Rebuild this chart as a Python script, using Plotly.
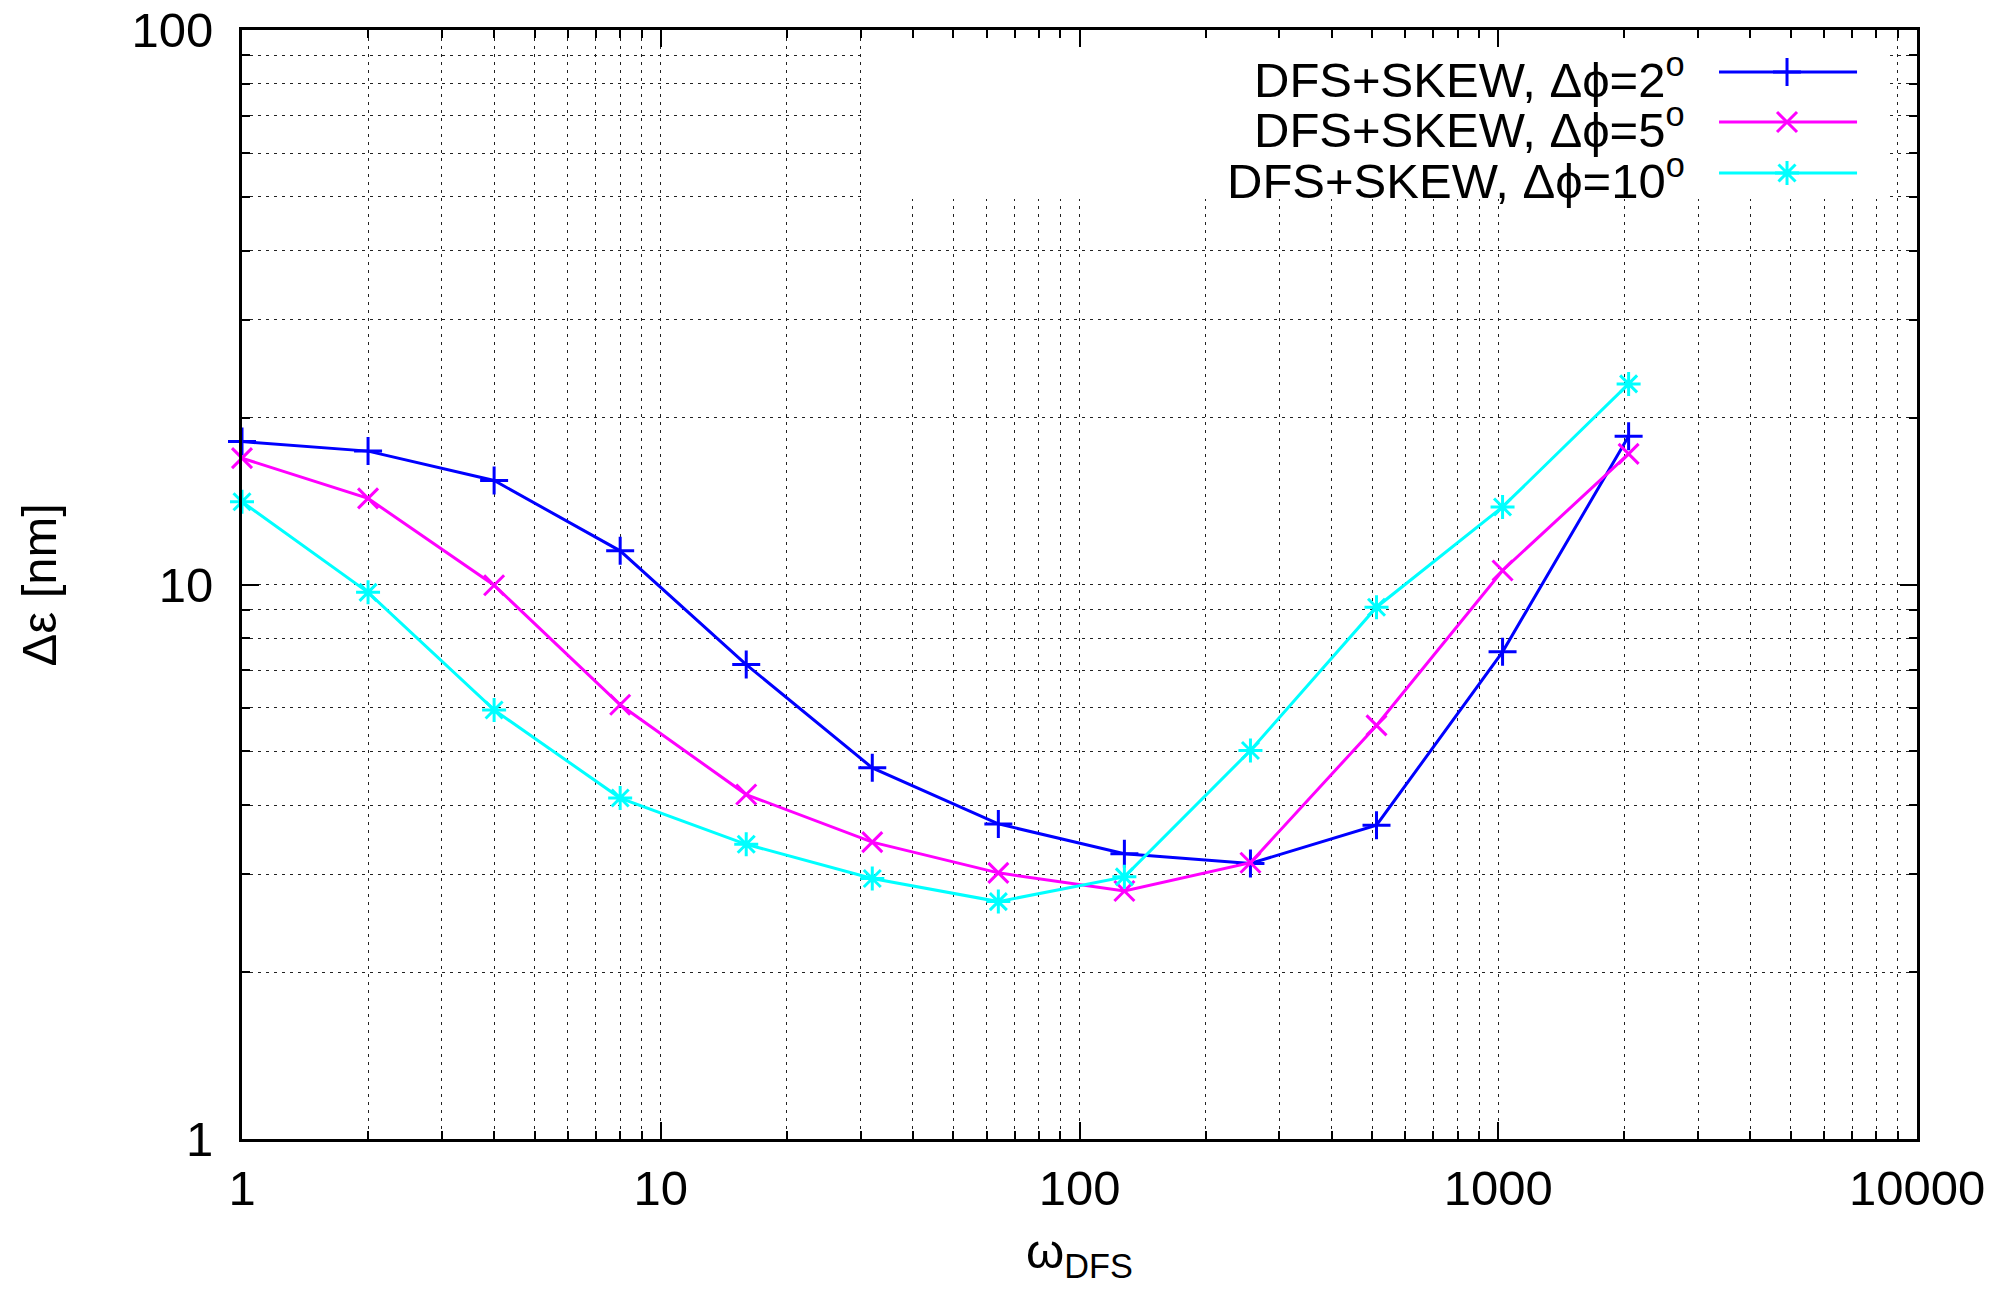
import plotly.graph_objects as go

# ---- data ----
omega_dfs = [1, 2, 4, 8, 16, 32, 64, 128, 256, 512, 1024, 2048]
err_dphi2 = [18.1, 17.4, 15.4, 11.5, 7.17, 4.67, 3.70, 3.27, 3.14, 3.68, 7.56, 18.5]
err_dphi5 = [16.9, 14.3, 9.97, 6.07, 4.18, 3.43, 3.02, 2.80, 3.15, 5.57, 10.6, 17.2]
err_dphi10 = [14.1, 9.68, 5.94, 4.12, 3.40, 2.95, 2.68, 2.97, 5.02, 9.1, 13.8, 23.0]

series_names = ["DFS+SKEW, Δϕ=2<sup>o</sup>", "DFS+SKEW, Δϕ=5<sup>o</sup>", "DFS+SKEW, Δϕ=10<sup>o</sup>"]
series_colors = ["#0000ff", "#ff00ff", "#00ffff"]
series_symbols = ["cross-thin", "x-thin", "asterisk"]
series_values = [err_dphi2, err_dphi5, err_dphi10]

x_tickvals = [1, 10, 100, 1000, 10000]
x_ticktext = ["1", "10", "100", "1000", "10000"]
y_tickvals = [1, 10, 100]
y_ticktext = ["1", "10", "100"]

FONT = "Liberation Sans, Arial, Helvetica, sans-serif"
FS = 49
LW = 3
MS = 20

# page body has an 8px margin: size the figure so that the plot frame lands where the reference has it
W, H = 1984, 1280
ML, MT = 234, 22
PW, PH = 1675, 1109

fig = go.Figure()

# white key box (drawn on the overlay axes so it hides the grid behind the key)
fig.add_trace(go.Scatter(
    x=[0.3725, 0.9839, 0.9839, 0.3725, 0.3725], y=[0.8476, 0.8476, 1.0, 1.0, 0.8476],
    mode="lines", fill="toself", fillcolor="white", line=dict(width=0, color="white"),
    xaxis="x2", yaxis="y2", showlegend=False, hoverinfo="skip",
))

for name, col, sym, vals in zip(series_names, series_colors, series_symbols, series_values):
    fig.add_trace(go.Scatter(
        x=omega_dfs, y=vals, mode="lines+markers", name=name,
        line=dict(color=col, width=LW),
        marker=dict(symbol=sym, size=MS, color=col, line=dict(color=col, width=LW)),
        showlegend=False, cliponaxis=False,
    ))

# ---- key (gnuplot-style: text left, sample right) ----
key_rows_y = [0.9621, 0.9170, 0.8711]
key_x0, key_xm, key_x1 = 0.8818, 0.9224, 0.9642
for name, col, sym, ry in zip(series_names, series_colors, series_symbols, key_rows_y):
    fig.add_trace(go.Scatter(
        x=[key_x0, key_x1], y=[ry, ry], mode="lines", xaxis="x2", yaxis="y2",
        line=dict(color=col, width=LW), showlegend=False, hoverinfo="skip",
    ))
    fig.add_trace(go.Scatter(
        x=[key_xm], y=[ry], mode="markers", xaxis="x2", yaxis="y2",
        marker=dict(symbol=sym, size=MS, color=col, line=dict(color=col, width=LW)),
        showlegend=False, hoverinfo="skip",
    ))
    fig.add_annotation(
        x=0.8627, y=ry, xref="paper", yref="paper", xanchor="right", yanchor="middle",
        text=name, showarrow=False, font=dict(family=FONT, size=FS, color="black"),
        yshift=-4,
    )

GRIDC = "#222222"
grid_style = dict(showgrid=True, gridcolor=GRIDC, gridwidth=1, griddash="3px,5px")
minor_style = dict(ticks="inside", ticklen=8, tickwidth=2, tickcolor="black",
                   showgrid=True, gridcolor=GRIDC, gridwidth=1, griddash="3px,5px", dtick="D1")

fig.update_layout(
    width=W, height=H,
    margin=dict(l=ML, r=W - ML - PW, t=MT, b=H - MT - PH, autoexpand=False),
    paper_bgcolor="white", plot_bgcolor="white",
    font=dict(family=FONT, size=FS, color="black"),
    xaxis=dict(
        type="log", range=[0, 4], tickvals=x_tickvals, ticktext=x_ticktext,
        ticks="inside", ticklen=17, tickwidth=2, tickcolor="black",
        showline=True, linecolor="black", linewidth=3, mirror="ticks",
        ticklabelstandoff=4, ticklabeloverflow="allow",
        zeroline=False, automargin=False, minor=minor_style, **grid_style,
    ),
    yaxis=dict(
        type="log", range=[0, 2], tickvals=y_tickvals, ticktext=y_ticktext,
        ticks="inside", ticklen=17, tickwidth=2, tickcolor="black",
        showline=True, linecolor="black", linewidth=3, mirror="ticks",
        ticklabelstandoff=16, ticklabeloverflow="allow",
        zeroline=False, automargin=False, minor=minor_style, **grid_style,
    ),
    xaxis2=dict(overlaying="x", range=[0, 1], visible=False, anchor="y2"),
    yaxis2=dict(overlaying="y", range=[0, 1], visible=False, anchor="x2"),
    showlegend=False,
)

# axis titles
fig.add_annotation(x=0.5, y=-(H - MT - PH - 1) / PH, xref="paper", yref="paper",
                   xanchor="center", yanchor="bottom",
                   text="ω<sub>DFS</sub>", showarrow=False, font=dict(family=FONT, size=FS, color="black"))
fig.add_annotation(x=(30 - ML) / PW, y=0.5, xref="paper", yref="paper", xanchor="center", yanchor="middle",
                   text="Δε [nm]", textangle=-90, showarrow=False,
                   font=dict(family=FONT, size=FS, color="black"))

fig.write_html("out.html")
